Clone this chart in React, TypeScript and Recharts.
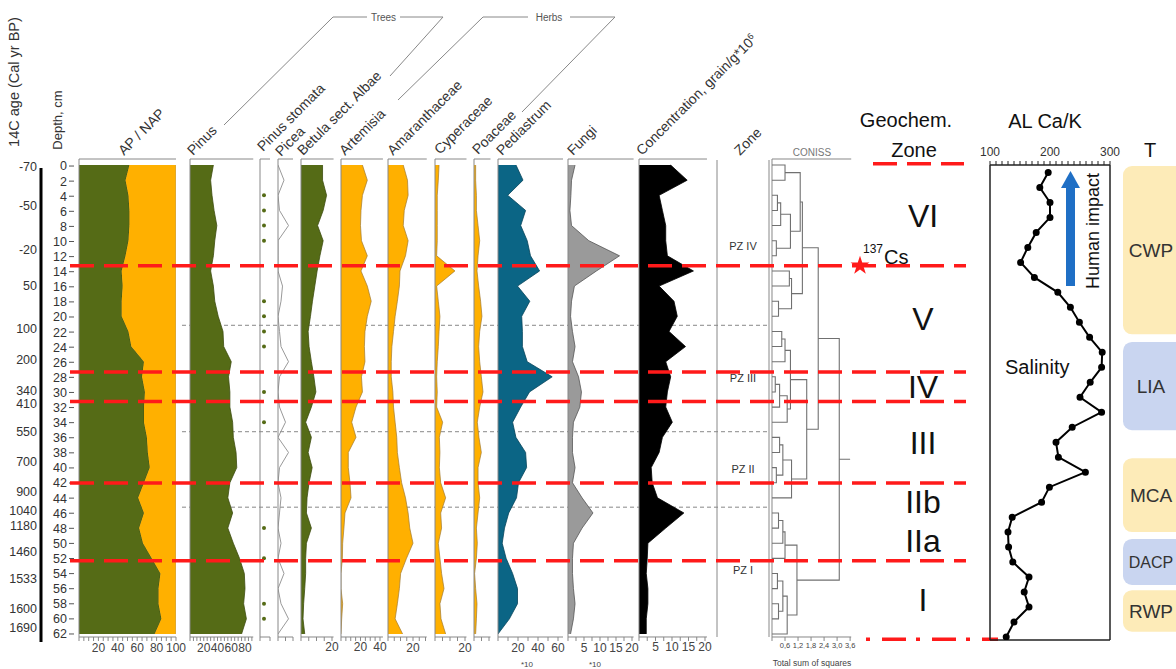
import React from "react";
import {
  ComposedChart,
  Area,
  Line,
  Scatter,
  XAxis,
  YAxis,
  ReferenceLine,
  ReferenceArea,
  Symbols,
} from "recharts";

// sample depths (cm) shared by every pollen curve
const DEPTHS = [0, 2, 4, 6, 8, 10, 12, 14, 16, 18, 20, 22, 24, 26, 28, 30, 32, 34, 36, 38, 40, 42, 44, 46, 48, 50, 52, 54, 56, 58, 60, 62];

const AP = [52, 48, 51, 52, 52, 51, 48, 44, 45, 44, 44, 51, 54, 67, 65, 68, 67, 67, 70, 71, 73, 67, 61, 67, 62, 66, 75, 84, 82, 82, 85, 78];
const PINUS = [34, 30, 32, 35, 39, 36, 34, 30, 34, 36, 41, 48, 49, 60, 56, 58, 58, 62, 63, 67, 68, 58, 55, 62, 55, 63, 72, 79, 80, 78, 82, 75];
const PICEA = [0, 4, 0, 1, 7, 0, 0, 0, 3, 2, 0, 1, 2, 7, 1, 0, 1, 5, 0, 7, 1, 0, 2, 1, 0, 2, 0, 4, 0, 2, 7, 0];
const BETULA = [13.9, 13.9, 16.5, 14.3, 10.7, 14.3, 12.2, 10.4, 8.9, 7.4, 6.1, 4.6, 5.2, 6.7, 8.3, 9.6, 6.7, 3, 6.7, 4.6, 7.2, 5.2, 3.9, 3.5, 6.7, 3.5, 3, 3, 2.4, 1.7, 1.3, 2.4];
const ARTEMISIA = [22, 27, 22, 20.5, 20, 21, 27, 20.5, 27, 31, 27, 24.6, 24, 24.6, 21, 22, 15.4, 11, 15.4, 7.5, 7.5, 9.2, 10.3, 4.1, 3, 1.7, 1.4, 0, 0, 1.7, 0.7, 0];
const AMARANTH = [12.2, 15.6, 16.1, 13, 12.2, 16.1, 14, 9.6, 9.1, 7.5, 5.7, 4.4, 3.1, 2.6, 2.6, 3.9, 4.4, 5.7, 7, 7.5, 9.1, 10.9, 14, 16.1, 17.4, 20, 14.8, 10.1, 9.1, 7.5, 5.7, 11.7];
const CYPERACEAE = [2.7, 2.2, 1.5, 1.5, 1.5, 1.5, 1.1, 13.3, 1.1, 2.2, 3.3, 2.7, 2.2, 1.5, 1.1, 1.5, 1.1, 5.1, 2.9, 3.3, 2.9, 3.8, 7.1, 3.8, 4.4, 2.2, 3.3, 4.4, 6, 3.3, 4, 7.1];
const POACEAE = [1.1, 1.1, 1.6, 1.6, 2.7, 3.8, 2.7, 2, 3.1, 4.4, 5.3, 3.8, 3.1, 3.8, 4.9, 6, 3.8, 2.2, 3.3, 4.9, 2.7, 2.7, 3.8, 2.7, 1.6, 2.2, 1.6, 0.4, 1.1, 2, 1.6, 1.1];
const PEDIASTRUM = [18, 25, 9.7, 27.6, 22.7, 29.2, 32.5, 41.6, 19.5, 31.8, 23.7, 24.4, 24.4, 29.2, 54.2, 31.5, 22.7, 14.6, 17.9, 27.6, 28.6, 20.5, 18.5, 10.7, 6.5, 4.2, 8.1, 14.6, 19.5, 19.5, 11.4, 0];
const FUNGI = [2.2, 1.1, 0.9, 0.6, 1.1, 6.5, 16.1, 8.9, 2, 1.1, 0.8, 1.4, 2.2, 1.4, 3.3, 4.2, 3.7, 1.7, 1.4, 1.4, 2.2, 1.4, 4.4, 7.8, 4.4, 1.7, 1.4, 1.4, 1.7, 2.2, 1.7, 0.8];
const CONCENTRATION = [9.6, 14.6, 6.1, 7.1, 8.1, 8.1, 8.6, 16.5, 6.1, 10.6, 11.6, 9.1, 14.1, 8.1, 9.6, 8.6, 8.1, 10.1, 7.1, 6.1, 3.7, 4, 5.6, 13.6, 8.1, 2.7, 2.5, 2.2, 2.7, 2.7, 2.2, 2.2];

// depths where Pinus stomata were found
const STOMATA_DEPTHS = [4, 6, 8, 10, 18, 20, 22, 24, 30, 34, 48, 52, 58, 60];

// age-depth model labels
const AGE_LABELS = ["-70", "-50", "-20", "50", "100", "200", "340", "410", "550", "700", "900", "1040", "1180", "1460", "1533", "1600", "1690"];
const AGE_DEPTHS = [0.1, 5.2, 11.1, 15.8, 21.5, 25.7, 29.7, 31.5, 35.2, 39.1, 43.2, 45.6, 47.7, 51.1, 54.7, 58.7, 61.2];

// pollen zones (grey dashed)
const PZ_NAMES = ["PZ IV", "PZ III", "PZ II", "PZ I"];
const PZ_BOUNDS = [0, 21.1, 35.2, 45.2, 62];

// geochemical zones (red dashed)
const GEO_BOUNDS = [13.2, 27.3, 31.2, 42.0, 52.3];
const GEO_NAMES = ["VI", "V", "IV", "III", "IIb", "IIa", "I"];
const GEO_TOP = [0, 13.2, 27.3, 31.2, 42.0, 47.0, 52.3];
const GEO_BOTTOM = [13.2, 27.3, 31.2, 42.0, 47.0, 52.3, 62.5];
const GEO_LIMITS = [-0.3, 62.7];

// CONISS tree: leaf = depth, node = [left, right, total sum of squares]
const CONISS_TREE: any = [
  [
    [
      [[0, 2, 0.6], [[[4, 6, 0.25], 8, 0.4], [10, 12, 0.2], 0.85], 1.3],
      [[14, 16, 0.8], [18, 20, 0.3], 0.9],
      1.4,
    ],
    [
      [[[22, 24, 0.45], 26, 0.6], [[[28, 30, 0.15], 32, 0.35], 34, 0.7], 0.85],
      [[[36, 38, 0.35], [40, 42, 0.2], 0.5], 44, 0.9],
      1.6,
    ],
    2.13,
  ],
  [
    [[[46, 48, 0.3], 50, 0.5], 52, 0.6],
    [[[54, 56, 0.25], [58, 60, 0.3], 0.5], 62, 0.7],
    1.15,
  ],
  3.1,
];
const CONISS_ROOT_STUB = 3.6;

// AL Ca/K profile (evenly spaced samples, top to bottom)
const CAK = [197, 183, 200, 200, 177, 163, 151, 174, 213, 234, 249, 266, 287, 286, 267, 250, 286, 237, 210, 214, 259, 199, 186, 137, 130, 131, 138, 165, 157, 165, 140, 127];

// climate periods (T column)
const T_NAMES = ["CWP", "LIA", "MCA", "DACP", "RWP"];
const T_TOP = [0, 23.3, 38.7, 49.4, 56.2];
const T_BOTTOM = [22.3, 35.0, 48.5, 55.5, 61.7];
const T_COLORS = ["#FDEBB8", "#C9D5F0", "#FDEBB8", "#C9D5F0", "#FDEBB8"];

const FONT = "'Liberation Sans', Arial, sans-serif";
const CH_TOP = 150;
const CH_H = 519;
const DEPTH_DOMAIN: [number, number] = [-0.8, 62.4];
// the age bar is drawn a little lower than the panels (168..642 px)
const AGE_DOMAIN: [number, number] = [0.27, 63.07];
const AXIS = "#888";
const GREEN = "#556B16";
const ORANGE = "#FFB000";
const RED = "#FF1A1A";

const ROWS = DEPTHS.map((depth, i) => ({
  depth,
  ap: AP[i],
  nap: 100 - AP[i],
  pinus: PINUS[i],
  picea: PICEA[i],
  betula: BETULA[i],
  artemisia: ARTEMISIA[i],
  amaranth: AMARANTH[i],
  cyperaceae: CYPERACEAE[i],
  poaceae: POACEAE[i],
  pediastrum: PEDIASTRUM[i],
  fungi: FUNGI[i],
  conc: CONCENTRATION[i],
}));

const STOMATA_ROWS = STOMATA_DEPTHS.map((depth) => ({ x: 0.4, depth }));
const CAK_ROWS = CAK.map((v, i) => ({ idx: i + 1, cak: v }));

const steps = (a: number, b: number, s: number) => {
  const out: number[] = [];
  for (let v = a; v <= b + 1e-9; v += s) out.push(+v.toFixed(2));
  return out;
};

// walk the tree, one 4-point polyline per merge
function dendroSegments(tree: any) {
  const segs: { x: number; depth: number }[][] = [];
  const walk = (n: any): { pos: number; h: number } => {
    if (typeof n === "number") return { pos: n, h: 0 };
    const a = walk(n[0]);
    const b = walk(n[1]);
    segs.push([
      { x: a.h, depth: a.pos },
      { x: n[2], depth: a.pos },
      { x: n[2], depth: b.pos },
      { x: b.h, depth: b.pos },
    ]);
    return { pos: (a.pos + b.pos) / 2, h: n[2] };
  };
  const root = walk(tree);
  segs.push([
    { x: root.h, depth: root.pos },
    { x: CONISS_ROOT_STUB, depth: root.pos },
  ]);
  return segs;
}
const DENDRO = dendroSegments(CONISS_TREE);

const noShape = () => <g />;

type PanelProps = {
  x0: number;
  max: number;
  scale: number;
  ticks: number[];
  labels: number[];
  topTicks?: number[];
  fmt?: (v: number) => string;
  fontSize?: number;
  children: React.ReactNode;
};

// one strip of the pollen diagram: depth runs down, value runs right
function Panel({ x0, max, scale, ticks, labels, topTicks, fmt, fontSize = 12, children }: PanelProps) {
  const w = max * scale;
  return (
    <div style={{ position: "absolute", left: x0 - 13, top: CH_TOP }}>
      <ComposedChart
        layout="vertical"
        width={13 + w + 14}
        height={CH_H}
        data={ROWS}
        margin={{ top: 9, right: 14, bottom: 2, left: 12 }}
      >
        <XAxis
          xAxisId="top"
          orientation="top"
          type="number"
          domain={[0, max]}
          allowDataOverflow
          ticks={topTicks || ticks}
          interval={0}
          height={1}
          tick={false}
          tickSize={3}
          mirror
          axisLine={{ stroke: AXIS }}
          tickLine={{ stroke: AXIS }}
        />
        <XAxis
          type="number"
          domain={[0, max]}
          allowDataOverflow
          ticks={ticks}
          interval={0}
          height={30}
          tickSize={4}
          tickFormatter={(v: number) => (labels.includes(v) ? (fmt ? fmt(v) : String(v)) : "")}
          tick={{ fontSize, fill: "#444" }}
          axisLine={{ stroke: AXIS }}
          tickLine={{ stroke: AXIS }}
        />
        <YAxis
          type="number"
          dataKey="depth"
          domain={DEPTH_DOMAIN}
          allowDataOverflow
          width={1}
          tick={false}
          tickLine={false}
          axisLine={{ stroke: AXIS }}
        />
        {children}
      </ComposedChart>
    </div>
  );
}

// chart with hidden axes sharing the depth scale, for overlays
function Overlay({ left, width, children }: any) {
  return (
    <div style={{ position: "absolute", left, top: CH_TOP }}>
      <ComposedChart
        layout="vertical"
        width={width}
        height={CH_H}
        data={ROWS}
        margin={{ top: 10, right: 0, bottom: 32, left: 0 }}
      >
        <XAxis type="number" hide domain={[0, 1]} allowDataOverflow />
        <YAxis type="number" dataKey="depth" hide domain={DEPTH_DOMAIN} allowDataOverflow />
        {children}
      </ComposedChart>
    </div>
  );
}

const TITLES: [string, number, number][] = [
  ["AP / NAP", 124, 156],
  ["Pinus", 193, 156],
  ["Pinus stomata", 263, 152],
  ["Picea", 281, 157],
  ["Betula sect. Albae", 303, 156],
  ["Artemisia", 345, 156],
  ["Amaranthaceae", 393, 156],
  ["Cyperaceae", 440, 155],
  ["Poaceae", 478, 155],
  ["Pediastrum", 502, 156],
  ["Fungi", 573, 156],
  ["Zone", 740, 156],
];

const areaProps = { type: "linear" as const, isAnimationActive: false, fillOpacity: 1, dot: false, activeDot: false };

export default function App() {
  return (
    <div
      style={{
        position: "absolute",
        left: 0,
        top: 0,
        width: 1176,
        height: 669,
        overflow: "hidden",
        background: "#fff",
        fontFamily: FONT,
      }}
    >
      {/* grey pollen-zone lines, behind the curves */}
      <Overlay left={182} width={586}>
        {PZ_BOUNDS.slice(1, -1).map((d) => (
          <ReferenceLine key={d} y={d} stroke="#888" strokeWidth={1} strokeDasharray="4 3" />
        ))}
      </Overlay>

      {/* age axis */}
      <div style={{ position: "absolute", left: 0, top: CH_TOP }}>
        <ComposedChart layout="vertical" width={44} height={CH_H} data={ROWS} margin={{ top: 18, right: 0, bottom: 27, left: 0 }}>
          <XAxis type="number" hide domain={[0, 1]} allowDataOverflow />
          <YAxis
            type="number"
            dataKey="depth"
            domain={AGE_DOMAIN}
            allowDataOverflow
            width={41}
            ticks={AGE_DEPTHS}
            interval={0}
            tickLine={false}
            tickSize={2}
            tickMargin={2}
            tickFormatter={(v: number) => AGE_LABELS[AGE_DEPTHS.indexOf(v)]}
            tick={{ fontSize: 12.5, fill: "#333" }}
            axisLine={{ stroke: "#000", strokeWidth: 3 }}
          />
        </ComposedChart>
      </div>

      {/* depth axis */}
      <div style={{ position: "absolute", left: 40, top: CH_TOP }}>
        <ComposedChart layout="vertical" width={36} height={CH_H} data={ROWS} margin={{ top: 10, right: 0, bottom: 32, left: 0 }}>
          <XAxis type="number" hide domain={[0, 1]} allowDataOverflow />
          <YAxis
            type="number"
            dataKey="depth"
            domain={DEPTH_DOMAIN}
            allowDataOverflow
            width={34}
            ticks={DEPTHS}
            interval={0}
            tickSize={5}
            tickMargin={2}
            tickLine={{ stroke: "#555" }}
            axisLine={false}
            tick={{ fontSize: 12.5, fill: "#333" }}
          />
        </ComposedChart>
      </div>

      <Panel x0={79} max={100} scale={0.97} ticks={steps(0, 100, 5)} topTicks={steps(0, 100, 2.5)} labels={[20, 40, 60, 80, 100]}>
        <Area {...areaProps} dataKey="ap" stackId="a" fill={GREEN} stroke="#3d4d10" strokeWidth={0.8} />
        <Area {...areaProps} dataKey="nap" stackId="a" fill={ORANGE} stroke="#999" strokeWidth={0.6} />
      </Panel>

      <Panel x0={190} max={92} scale={0.6875} ticks={steps(0, 90, 5)} topTicks={steps(0, 90, 2.5)} labels={[20, 40, 60, 80]}>
        <Area {...areaProps} dataKey="pinus" fill={GREEN} stroke="#3d4d10" strokeWidth={0.8} />
      </Panel>

      <Panel x0={260} max={1} scale={10} ticks={[0, 1]} labels={[]}>
        <Scatter
          data={STOMATA_ROWS}
          dataKey="x"
          isAnimationActive={false}
          shape={(p: any) => <circle cx={p.cx} cy={p.cy} r={2} fill={GREEN} />}
        />
      </Panel>

      <Panel x0={278} max={10} scale={1.5} ticks={[0, 5, 10]} labels={[]}>
        <Line type="linear" dataKey="picea" stroke="#999" strokeWidth={1} dot={false} activeDot={false} isAnimationActive={false} />
      </Panel>

      <Panel x0={301} max={21} scale={1.55} ticks={[0, 5, 10, 15, 20]} labels={[20]}>
        <Area {...areaProps} dataKey="betula" fill={GREEN} stroke="#3d4d10" strokeWidth={0.8} />
      </Panel>

      <Panel x0={341} max={43} scale={0.975} ticks={steps(0, 40, 5)} labels={[20, 40]}>
        <Area {...areaProps} dataKey="artemisia" fill={ORANGE} stroke="#a07a30" strokeWidth={0.7} />
      </Panel>

      <Panel x0={388} max={31} scale={1.25} ticks={steps(0, 30, 5)} labels={[20]}>
        <Area {...areaProps} dataKey="amaranth" fill={ORANGE} stroke="#a07a30" strokeWidth={0.7} />
      </Panel>

      <Panel x0={435} max={21} scale={1.5} ticks={[0, 5, 10, 15, 20]} labels={[20]}>
        <Area {...areaProps} dataKey="cyperaceae" fill={ORANGE} stroke="#a07a30" strokeWidth={0.7} />
      </Panel>

      <Panel x0={474} max={11} scale={1.5} ticks={[0, 5, 10]} labels={[]}>
        <Area {...areaProps} dataKey="poaceae" fill={ORANGE} stroke="#a07a30" strokeWidth={0.7} />
      </Panel>

      <Panel x0={498} max={65} scale={1.0} ticks={steps(0, 60, 10)} labels={[20, 40, 60]}>
        <Area {...areaProps} dataKey="pediastrum" fill="#0B6585" stroke="#06445a" strokeWidth={0.8} />
      </Panel>

      <Panel x0={568} max={20.5} scale={3.2} ticks={steps(0, 20, 2.5)} labels={[5, 10, 15, 20]}>
        <Area {...areaProps} dataKey="fungi" fill="#9A9A9A" stroke="#555" strokeWidth={0.8} />
      </Panel>

      <Panel x0={639} max={20.6} scale={3.3} ticks={steps(0, 20, 2.5)} labels={[5, 10, 15, 20]}>
        <Area {...areaProps} dataKey="conc" fill="#000" stroke="#000" strokeWidth={0.8} />
      </Panel>

      {/* pollen zone column */}
      <div style={{ position: "absolute", left: 716, top: CH_TOP }}>
        <ComposedChart layout="vertical" width={54} height={CH_H} data={ROWS} margin={{ top: 10, right: 0, bottom: 32, left: 0 }}>
          <XAxis type="number" hide domain={[0, 1]} allowDataOverflow />
          <YAxis type="number" dataKey="depth" domain={DEPTH_DOMAIN} allowDataOverflow width={1} tick={false} tickLine={false} axisLine={{ stroke: AXIS }} />
          <YAxis yAxisId="r" orientation="right" type="number" dataKey="depth" domain={DEPTH_DOMAIN} allowDataOverflow width={1} tick={false} tickLine={false} axisLine={{ stroke: AXIS }} />
          {PZ_NAMES.map((n, i) => (
            <ReferenceArea
              key={n}
              y1={PZ_BOUNDS[i]}
              y2={PZ_BOUNDS[i + 1]}
              fill="none"
              stroke="none"
              label={{ value: n, position: "center", fontSize: 11, fill: "#333" }}
            />
          ))}
        </ComposedChart>
      </div>

      {/* CONISS dendrogram */}
      <Panel
        x0={772}
        max={3.65}
        scale={21.7}
        ticks={steps(0, 3.6, 0.6)}
        labels={steps(0.6, 3.6, 0.6)}
        fmt={(v) => v.toFixed(1).replace(".", ",")}
        fontSize={7.5}
      >
        {DENDRO.map((seg, i) => (
          <Scatter
            key={i}
            data={seg}
            dataKey="x"
            line={{ stroke: "#707070", strokeWidth: 1.1 }}
            lineType="joint"
            shape={noShape}
            isAnimationActive={false}
          />
        ))}
      </Panel>

      {/* geochemical zones */}
      <Overlay left={846} width={154}>
        {GEO_NAMES.map((n, i) => (
          <ReferenceArea
            key={n}
            y1={GEO_TOP[i]}
            y2={GEO_BOTTOM[i]}
            fill="none"
            stroke="none"
            ifOverflow="visible"
            label={{ value: n, position: "center", fontSize: 32, fill: "#111" }}
          />
        ))}
      </Overlay>
      <Overlay left={873} width={91}>
        <ReferenceLine y={GEO_LIMITS[0]} stroke={RED} strokeWidth={3.5} strokeDasharray="24 10" ifOverflow="visible" />
      </Overlay>
      <Overlay left={866} width={132}>
        <ReferenceLine y={GEO_LIMITS[1]} stroke={RED} strokeWidth={3.5} strokeDasharray="4 12 24 10" ifOverflow="visible" />
      </Overlay>

      {/* red geochemical boundaries across the diagram */}
      <Overlay left={70} width={896}>
        {GEO_BOUNDS.map((d) => (
          <ReferenceLine key={d} y={d} stroke={RED} strokeWidth={3.5} strokeDasharray="24 10" />
        ))}
      </Overlay>

      {/* 137Cs marker */}
      <Overlay left={840} width={40}>
        <Scatter
          data={[{ x: 0.5, depth: GEO_BOUNDS[0] }]}
          dataKey="x"
          isAnimationActive={false}
          shape={(p: any) => <Symbols cx={p.cx} cy={p.cy} type="star" size={110} fill={RED} />}
        />
      </Overlay>

      {/* AL Ca/K */}
      <div style={{ position: "absolute", left: 974, top: 135 }}>
        <ComposedChart layout="vertical" width={152} height={511} data={CAK_ROWS} margin={{ top: 10, right: 10, bottom: 0, left: 10 }}>
          <XAxis
            xAxisId="t"
            orientation="top"
            type="number"
            domain={[100, 300]}
            allowDataOverflow
            ticks={steps(100, 300, 10)}
            interval={0}
            height={20}
            tickSize={4}
            tickMargin={5}
            tickFormatter={(v: number) => (v % 100 === 0 ? String(v) : "")}
            tick={{ fontSize: 12, fill: "#333" }}
            axisLine={{ stroke: "#222", strokeWidth: 1.5 }}
            tickLine={{ stroke: "#222" }}
          />
          <XAxis
            xAxisId="b"
            orientation="bottom"
            type="number"
            domain={[100, 300]}
            allowDataOverflow
            ticks={steps(100, 300, 10)}
            interval={0}
            height={6}
            tickSize={4}
            tick={false}
            axisLine={{ stroke: "#222", strokeWidth: 1.5 }}
            tickLine={{ stroke: "#222" }}
          />
          <YAxis
            yAxisId="l"
            type="number"
            dataKey="idx"
            domain={[0.5, 32.2]}
            allowDataOverflow
            ticks={steps(1, 32, 1)}
            interval={0}
            width={6}
            tickSize={4}
            tick={false}
            axisLine={{ stroke: "#222", strokeWidth: 1.5 }}
            tickLine={{ stroke: "#222" }}
          />
          <YAxis
            yAxisId="r"
            orientation="right"
            type="number"
            dataKey="idx"
            domain={[0.5, 32.2]}
            allowDataOverflow
            ticks={steps(1, 32, 1)}
            interval={0}
            width={6}
            tickSize={4}
            tick={false}
            axisLine={{ stroke: "#222", strokeWidth: 1.5 }}
            tickLine={{ stroke: "#222" }}
          />
          <Line
            xAxisId="t"
            yAxisId="l"
            type="linear"
            dataKey="cak"
            stroke="#000"
            strokeWidth={2}
            dot={{ r: 2.5, fill: "#000", stroke: "#000" }}
            activeDot={false}
            isAnimationActive={false}
          />
        </ComposedChart>
      </div>

      {/* climate periods */}
      <Overlay left={1123} width={62}>
        {T_NAMES.map((n, i) => (
          <ReferenceArea
            key={n}
            y1={T_TOP[i]}
            y2={T_BOTTOM[i]}
            fill={T_COLORS[i]}
            fillOpacity={1}
            stroke="none"
            ifOverflow="visible"
            shape={(p: any) => <rect x={p.x} y={p.y} width={p.width} height={p.height} rx={9} ry={9} fill={T_COLORS[i]} />}
            label={{ value: n, position: "center", dx: -3, fontSize: n === "DACP" ? 16 : 19, fill: "#333" }}
          />
        ))}
      </Overlay>

      {/* titles and annotations */}
      <svg width={1176} height={669} style={{ position: "absolute", left: 0, top: 0, pointerEvents: "none" }}>
        <text transform="translate(19 82) rotate(-90)" textAnchor="middle" fontSize={14.5} fill="#333">
          14C age (Cal yr BP)
        </text>
        <text transform="translate(62 120) rotate(-90)" textAnchor="middle" fontSize={13} fill="#333">
          Depth, cm
        </text>
        {TITLES.map(([t, x, y]) => (
          <text key={t} transform={`translate(${x} ${y}) rotate(-45)`} fontSize={14} fill="#333">
            {t}
          </text>
        ))}
        <text transform="translate(642 156) rotate(-45)" fontSize={14} fill="#333">
          Concentration, grain/g*10
          <tspan dy={-5} fontSize={9}>
            6
          </tspan>
        </text>

        <g fill="none" stroke="#888" strokeWidth={1}>
          <polyline points="224,125 333,17 367,17" />
          <polyline points="400,17 443,17 390,76" />
          <polyline points="398,100 483,17 528,17" />
          <polyline points="570,17 615,17 522,112" />
        </g>
        <text x={383.5} y={21} textAnchor="middle" fontSize={10} fill="#555">
          Trees
        </text>
        <text x={549} y={21} textAnchor="middle" fontSize={10} fill="#555">
          Herbs
        </text>

        <text x={812} y={156} textAnchor="middle" fontSize={10} fill="#777">
          CONISS
        </text>
        <text x={812} y={666} textAnchor="middle" fontSize={8.5} fill="#444">
          Total sum of squares
        </text>
        <text x={527} y={667} textAnchor="middle" fontSize={8} fill="#444">
          *10
        </text>
        <text x={595} y={667} textAnchor="middle" fontSize={8} fill="#444">
          *10
        </text>

        <text x={906} y={127} textAnchor="middle" fontSize={20} fill="#111">
          Geochem.
        </text>
        <text x={914} y={157} textAnchor="middle" fontSize={20} fill="#111">
          Zone
        </text>
        <text x={863} y={253} fontSize={12} fill="#111">
          137
        </text>
        <text x={884} y={264} fontSize={20} fill="#111">
          Cs
        </text>

        <text x={1045} y={128} textAnchor="middle" fontSize={20} fill="#111">
          AL Ca/K
        </text>
        <text x={1150} y={157} textAnchor="middle" fontSize={20} fill="#111">
          T
        </text>
        <text x={1005} y={374} fontSize={20} fill="#111">
          Salinity
        </text>
        <rect x={1066} y={185} width={9} height={101} fill="#1F6FC5" />
        <polygon points="1061,188 1070.5,171 1080,188" fill="#1F6FC5" />
        <text transform="translate(1099 231) rotate(-90)" textAnchor="middle" fontSize={18} fill="#111">
          Human impact
        </text>
      </svg>
    </div>
  );
}
